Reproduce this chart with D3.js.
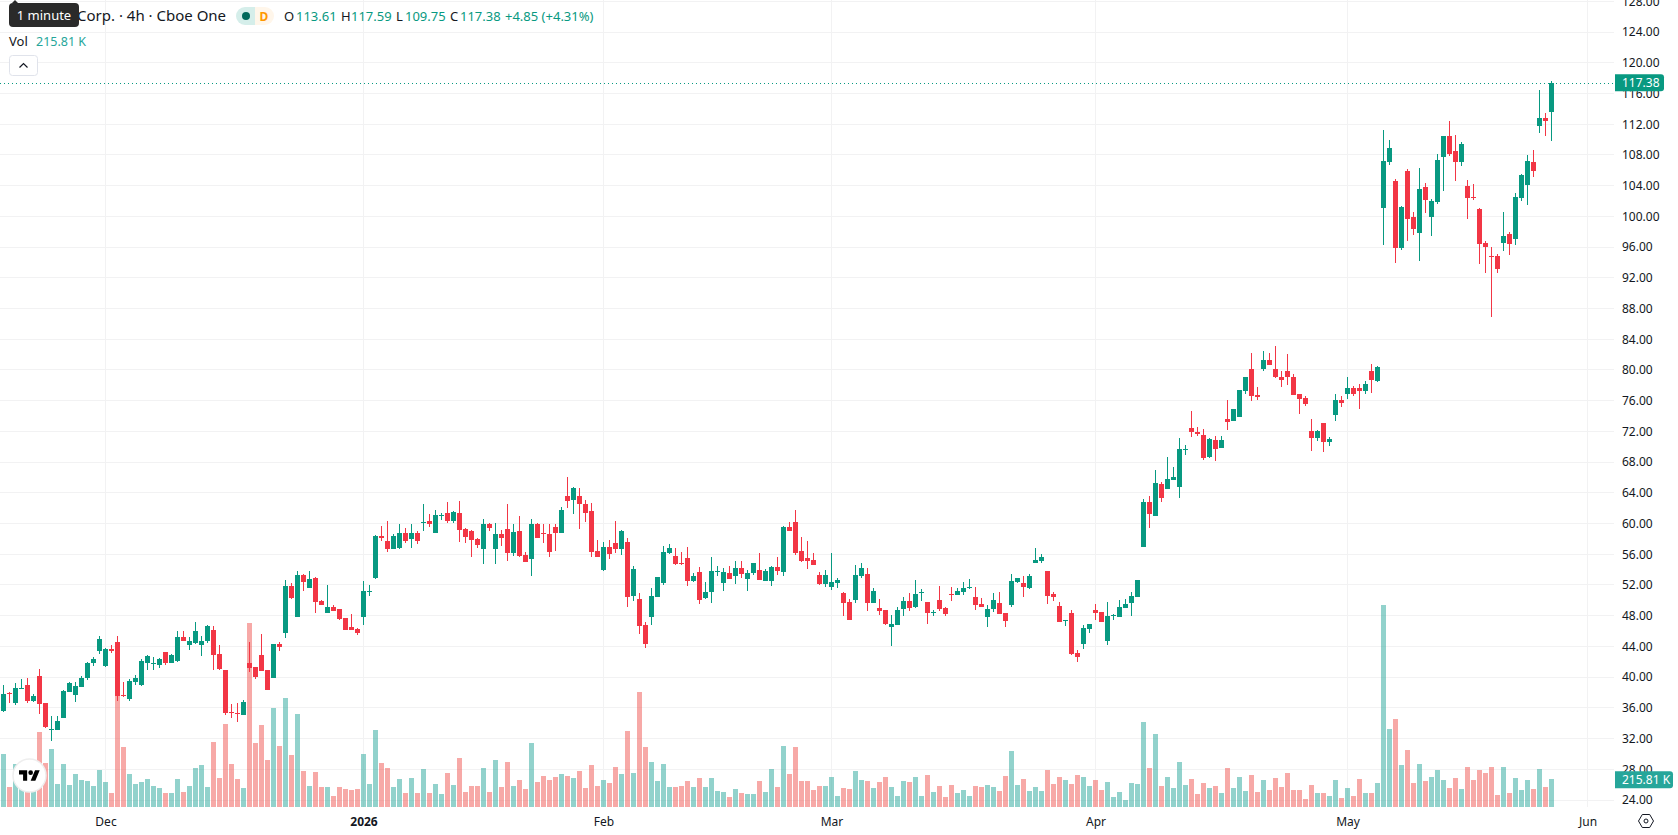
<!DOCTYPE html>
<html>
<head>
<meta charset="utf-8">
<title>Corp. 4h candlestick chart</title>
<style>
  html, body { margin: 0; padding: 0; background: #fff; }
  svg { display: block; }
  text { font-family: "Noto Sans", Roboto, sans-serif; }
</style>
<script src="https://cdn.jsdelivr.net/npm/d3@7"></script>
</head>
<body>
<svg id="chart" width="1678" height="835"></svg>
<script>
// 4-hour OHLC bars, oldest first.
const open = [
  35.59,37.89,36.63,38.45,38.97,36.89,40.15,36.63,33.12,33.12,
  34.68,38.06,37.67,38.71,39.89,41.84,43.40,41.45,43.66,44.57,
  37.67,37.15,39.37,38.97,41.84,41.71,41.58,43.27,41.84,42.10,
  45.22,44.18,44.44,44.18,44.70,46.14,43.01,40.93,35.46,35.33,
  35.07,41.84,41.32,42.88,40.93,39.89,44.31,45.75,51.86,47.83,
  53.30,51.60,52.91,49.91,48.35,49.13,48.87,47.70,46.53,46.27,
  47.83,51.08,52.95,58.38,57.73,56.69,56.82,58.77,57.99,58.77,
  60.07,60.33,58.77,60.98,61.37,60.33,61.37,59.29,59.03,57.98,
  56.68,59.94,56.68,58.64,59.29,56.16,59.03,55.90,55.38,59.94,
  58.77,58.64,59.55,58.77,63.59,63.06,63.59,62.54,61.63,56.42,
  53.95,56.94,57.46,56.68,57.59,50.56,50.17,46.79,47.83,50.43,
  52.25,56.16,55.77,54.86,55.51,52.52,53.69,50.30,51.09,53.69,
  52.25,53.56,53.17,54.21,52.78,53.56,53.95,52.52,52.52,54.34,
  53.69,59.55,60.20,56.42,55.51,55.25,53.30,52.13,51.74,52.25,
  50.95,49.78,50.04,53.17,53.43,49.65,49.00,48.74,46.53,46.79,
  48.87,49.91,49.13,50.95,49.78,48.35,50.04,49.00,50.82,50.69,
  51.09,51.61,50.43,49.52,47.83,48.87,49.65,48.35,49.39,52.39,
  52.25,51.61,54.86,55.12,53.82,50.82,49.26,47.31,48.35,43.14,
  44.31,46.27,48.74,48.48,44.71,47.96,47.83,49.00,49.65,50.43,
  56.94,62.80,60.98,65.15,64.50,65.67,64.76,69.58,72.44,71.92,
  71.53,68.66,70.88,69.84,73.61,73.35,73.87,77.26,80.12,76.74,
  80.12,81.29,80.12,79.08,79.86,79.08,76.87,76.35,72.05,71.14,
  73.09,70.62,74.13,76.09,76.87,77.65,77.65,77.26,79.86,78.56,
  101.08,107.07,104.60,95.87,105.90,99.91,97.83,103.81,99.91,101.86,
  107.72,110.45,108.50,107.07,103.94,102.51,100.95,96.52,94.83,94.83,
  96.52,97.70,97.04,102.38,104.08,107.07,111.76,112.80,113.61
];
const high = [
  38.97,38.11,39.24,39.76,39.89,37.80,41.06,36.63,34.94,34.94,
  38.32,39.37,39.37,40.15,41.97,42.62,45.35,43.79,44.18,45.35,
  39.37,39.76,40.28,42.36,42.88,42.62,42.49,43.27,43.01,46.01,
  46.01,45.22,47.18,45.35,46.79,46.66,44.18,40.93,36.50,36.63,
  37.02,44.57,41.32,45.62,40.93,44.31,44.57,52.65,52.26,53.82,
  53.43,53.82,53.04,50.04,51.99,49.39,48.87,47.70,48.22,46.40,
  52.52,51.99,58.51,59.68,60.33,58.64,59.94,59.42,59.94,59.03,
  62.54,61.24,61.76,61.37,62.80,61.63,62.93,59.42,59.16,58.11,
  60.59,60.07,60.07,59.16,62.54,59.94,60.98,56.29,60.59,60.07,
  59.94,59.94,59.94,62.15,66.06,64.76,64.63,63.06,62.67,57.85,
  57.59,57.85,60.33,59.16,58.11,54.47,50.95,47.18,51.60,53.04,
  57.07,57.33,56.81,56.29,56.94,53.56,54.34,52.39,55.64,54.47,
  54.21,54.47,55.12,55.12,53.95,54.86,56.16,54.08,54.47,55.64,
  59.68,60.20,61.76,58.25,57.72,56.16,53.69,53.95,56.16,52.91,
  51.09,50.17,54.60,54.86,54.21,51.60,50.17,48.74,48.09,49.13,
  50.43,50.95,52.65,51.48,49.78,48.74,51.87,49.13,51.74,51.61,
  52.39,52.78,51.74,50.30,49.39,50.95,51.09,48.35,53.43,52.91,
  53.17,53.43,56.81,56.03,53.82,51.09,49.78,47.44,48.74,43.53,
  46.79,46.92,49.52,48.48,49.78,48.22,50.04,50.17,51.09,52.65,
  63.19,63.59,66.97,65.41,68.66,67.36,71.14,70.23,74.65,72.57,
  72.31,71.14,71.40,71.40,76.09,74.91,77.39,79.08,82.21,77.78,
  82.47,82.21,83.12,79.86,82.08,79.47,76.87,76.61,73.61,72.18,
  73.09,71.27,76.87,76.61,79.08,77.91,78.17,78.56,80.77,80.51,
  111.24,109.93,104.86,101.34,106.16,100.56,106.29,104.34,102.25,108.11,
  110.45,112.41,110.58,109.67,104.73,104.21,101.08,96.78,96.00,95.09,
  100.56,97.96,103.03,105.51,107.98,108.63,116.44,113.45,117.59
];
const low = [
  35.46,36.67,36.37,38.45,36.63,36.76,35.20,33.38,31.68,33.12,
  34.68,38.06,36.76,38.71,39.63,41.45,43.01,41.32,43.14,36.89,
  37.41,36.89,38.97,38.84,40.93,40.93,41.19,41.58,41.84,41.97,
  44.70,43.53,44.31,42.75,44.44,40.93,40.93,35.07,34.68,34.16,
  35.07,40.67,39.76,40.80,38.32,39.89,43.40,45.09,50.17,47.83,
  51.21,51.60,48.35,49.39,48.35,48.61,47.44,46.14,46.14,45.48,
  46.79,50.56,52.78,57.77,56.30,56.69,56.69,57.47,56.82,57.34,
  59.03,59.55,58.77,60.46,60.07,60.07,57.59,57.46,55.64,56.81,
  54.73,59.03,54.73,57.07,55.12,55.77,55.64,54.99,53.17,58.11,
  57.46,55.64,56.42,58.77,62.02,61.24,59.29,60.20,55.64,55.64,
  53.82,55.38,56.16,55.90,49.13,49.91,45.62,43.79,46.79,50.43,
  52.00,56.03,54.60,54.60,51.87,52.39,49.52,50.17,49.65,53.17,
  51.22,52.78,52.13,52.91,51.22,53.30,52.65,52.52,51.87,53.30,
  53.17,59.03,55.90,54.99,54.08,54.60,52.00,51.74,51.34,51.61,
  47.96,47.44,49.65,52.91,48.61,49.65,48.09,46.79,44.05,46.79,
  47.96,48.61,49.00,49.91,46.92,47.96,48.61,47.96,49.91,50.69,
  50.69,51.48,48.74,49.13,46.53,48.48,48.22,46.53,49.13,52.25,
  50.43,51.48,54.86,54.86,49.52,49.91,47.18,46.66,42.88,41.97,
  43.66,45.75,47.44,47.18,44.18,47.44,47.83,49.00,47.96,50.43,
  56.94,59.42,60.98,62.80,64.50,65.67,63.33,68.93,71.27,71.40,
  68.27,68.53,68.14,69.84,72.18,73.35,73.87,76.87,75.96,76.09,
  79.86,80.64,78.95,77.78,78.04,76.74,74.26,75.30,69.45,70.75,
  69.32,70.10,73.35,75.17,76.22,76.61,74.91,76.87,77.00,78.43,
  96.26,106.68,93.92,95.61,96.78,97.57,94.18,100.43,97.43,101.60,
  103.29,107.85,104.60,106.55,99.65,102.12,93.79,92.62,86.89,92.62,
  95.48,94.96,96.26,101.99,101.47,105.12,110.85,110.45,109.75
];
const close = [
  37.80,37.76,38.58,38.58,36.89,37.54,36.50,33.51,33.25,34.29,
  38.19,39.24,38.84,39.89,41.84,42.36,44.96,43.66,43.40,37.54,
  37.54,39.50,39.89,42.10,42.75,41.84,42.36,41.84,42.88,45.22,
  44.70,44.70,46.01,44.70,46.66,42.88,41.06,35.33,35.33,35.24,
  36.76,41.19,40.02,40.80,38.32,44.31,43.92,51.86,50.30,53.30,
  52.39,52.78,49.78,49.39,49.13,48.61,47.57,46.14,46.14,45.75,
  51.21,51.21,58.38,58.12,56.69,58.38,58.77,57.73,58.77,57.73,
  60.20,59.94,61.11,61.11,60.33,61.50,59.16,58.25,57.85,57.20,
  59.94,59.42,58.64,58.11,56.16,58.90,55.77,54.99,59.94,58.11,
  58.64,56.29,58.77,61.76,62.93,64.63,62.54,61.37,56.29,55.64,
  56.94,56.03,56.68,59.03,50.43,54.08,46.66,44.31,50.56,53.04,
  56.29,56.81,54.73,54.73,52.52,53.17,50.04,51.09,53.82,53.82,
  53.69,52.78,54.21,53.43,53.56,54.86,52.65,53.82,54.34,53.82,
  59.55,59.03,56.16,55.12,55.12,54.60,52.13,53.30,52.39,52.65,
  49.65,47.44,53.30,54.21,49.65,51.22,48.61,46.92,46.92,48.74,
  49.91,49.00,50.82,51.09,48.35,48.48,48.87,48.22,50.69,51.22,
  51.61,51.74,49.39,49.13,48.87,50.04,48.22,47.31,52.52,52.91,
  51.74,53.17,55.25,55.64,50.56,50.43,47.18,47.44,43.01,42.62,
  46.40,46.92,48.35,47.18,47.96,48.09,49.13,49.52,50.56,52.65,
  62.80,61.24,65.28,63.32,65.80,66.06,69.71,69.71,71.92,71.66,
  68.53,71.01,69.71,70.88,73.22,74.91,77.39,79.08,76.61,76.48,
  81.29,80.64,79.08,78.69,79.08,76.74,76.22,75.57,71.14,72.05,
  70.62,71.01,76.09,75.70,77.65,76.87,77.26,78.17,78.69,80.38,
  107.20,108.89,95.87,101.21,99.65,98.35,103.55,102.12,101.99,107.33,
  110.45,108.11,107.07,109.41,102.38,102.38,96.39,96.00,94.70,93.14,
  97.43,96.39,102.51,105.38,107.20,105.90,112.80,112.41,117.38
];
// Traded volume per bar, in thousands of shares.
const volume = [
  411,153,333,260,208,208,582,341,450,177,
  333,169,255,208,200,161,286,192,107,871,
  465,255,177,192,216,161,146,107,107,216,
  114,161,302,325,153,504,224,645,333,216,
  146,1433,497,637,364,770,473,848,403,723,
  278,161,270,153,153,83,153,138,130,138,
  411,177,598,341,302,153,216,107,224,107,
  294,107,177,99,263,169,380,114,161,161,
  302,114,364,153,348,161,208,138,497,192,
  239,208,231,255,239,224,278,146,325,161,
  208,185,309,255,590,263,894,465,348,200,
  333,153,153,161,200,153,224,153,224,122,
  114,75,138,107,99,99,200,114,294,153,
  473,255,465,200,200,130,161,161,231,83,
  146,138,278,208,200,146,192,231,153,83,
  200,192,231,83,247,114,161,75,169,107,
  130,83,161,153,169,153,122,239,434,169,
  216,122,153,122,286,177,231,208,177,247,
  231,161,208,130,192,75,114,52,185,177,
  660,302,567,161,231,146,348,169,216,99,
  185,146,161,107,302,146,231,122,247,114,
  208,130,224,153,263,130,130,60,169,107,
  107,83,208,68,146,83,216,107,107,185,
  1573,606,684,325,442,185,333,200,231,286,
  208,146,224,138,309,208,286,263,309,91,
  309,107,224,130,208,138,294,153,215.81
];

const priceTicks = d3.range(24, 129, 4);
const monthLabels = ["Dec", "2026", "Feb", "Mar", "Apr", "May", "Jun"];
const monthBarIndex = [17, 60, 100, 138, 182, 224, 264];
const sessionChange = "+4.85 (+4.31%)";

const bars = open.map((o, i) => ({
  i, o, h: high[i], l: low[i], c: close[i], v: volume[i], up: close[i] >= o
}));

const UP = "#089981", DOWN = "#f23645";
const VOL_UP = "rgba(38,166,154,0.5)", VOL_DOWN = "rgba(239,83,80,0.5)";
const GRID = "#f2f2f3", INK = "#131722";
const paneRight = 1614, paneBottom = 806.7;

const x = d3.scaleLinear().domain([0, 258]).range([3.5, 1551.5]);
const y = d3.scaleLinear().domain([24, 128]).range([800, 1.3]);
const yVol = d3.scaleLinear().domain([0, 1573]).range([paneBottom, 605]);

const svg = d3.select("#chart");
const last = bars[bars.length - 1];

// Background grid
svg.append("g").selectAll("line").data(priceTicks).join("line")
  .attr("x1", 0).attr("x2", paneRight)
  .attr("y1", d => y(d)).attr("y2", d => y(d))
  .attr("stroke", GRID).attr("shape-rendering", "crispEdges");
svg.append("g").selectAll("line").data(monthBarIndex).join("line")
  .attr("x1", d => x(d)).attr("x2", d => x(d))
  .attr("y1", 0).attr("y2", paneBottom)
  .attr("stroke", GRID).attr("shape-rendering", "crispEdges");

// Volume histogram sits behind the candles
svg.append("g").attr("shape-rendering", "crispEdges")
  .selectAll("rect").data(bars).join("rect")
  .attr("x", d => x(d.i) - 2.5).attr("width", 5)
  .attr("y", d => yVol(d.v)).attr("height", d => paneBottom - yVol(d.v))
  .attr("fill", d => d.up ? VOL_UP : VOL_DOWN);

// Last-price line
svg.append("line")
  .attr("x1", 0).attr("x2", paneRight + 1)
  .attr("y1", Math.round(y(last.c)) + 0.5).attr("y2", Math.round(y(last.c)) + 0.5)
  .attr("stroke", UP).attr("stroke-dasharray", "1 3");

// Candles: wick then body
const candles = svg.append("g").attr("shape-rendering", "crispEdges");
candles.selectAll("rect.wick").data(bars).join("rect")
  .attr("class", "wick")
  .attr("x", d => x(d.i) - 0.5).attr("width", 1)
  .attr("y", d => y(d.h)).attr("height", d => y(d.l) - y(d.h))
  .attr("fill", d => d.up ? UP : DOWN);
candles.selectAll("rect.body").data(bars).join("rect")
  .attr("class", "body")
  .attr("x", d => x(d.i) - 2.5).attr("width", 5)
  .attr("y", d => y(Math.max(d.o, d.c)))
  .attr("height", d => Math.max(1, Math.abs(y(d.o) - y(d.c))))
  .attr("fill", d => d.up ? UP : DOWN);

// Price axis on the right
const yAxis = d3.axisRight(y).tickValues(priceTicks)
  .tickFormat(d3.format(".2f")).tickSize(0).tickPadding(8);
const yG = svg.append("g").attr("transform", `translate(${paneRight},0)`).call(yAxis);
yG.select(".domain").remove();
yG.selectAll("text").attr("font-size", 12).attr("fill", INK)
  .style("font-family", '"Noto Sans", sans-serif');

// Time axis along the bottom
const xAxis = d3.axisBottom(x).tickValues(monthBarIndex)
  .tickFormat((d, i) => monthLabels[i]).tickSize(0).tickPadding(0);
const xG = svg.append("g").attr("transform", `translate(0,${paneBottom + 10.5})`).call(xAxis);
xG.select(".domain").remove();
xG.selectAll("text").attr("font-size", 12).attr("fill", INK)
  .style("font-family", '"Noto Sans", sans-serif')
  .attr("font-weight", d => d === 60 ? 700 : 400);

// Price scale value tags
function tag(value, text, fill, boxW, boxH) {
  const g = svg.append("g");
  g.append("path")
    .attr("d", `M${paneRight + 1} ${value - boxH / 2}h${boxW - 3}q3 0 3 3v${boxH - 6}q0 3 -3 3h${-(boxW - 3)}z`)
    .attr("fill", fill);
  g.append("text").attr("x", paneRight + 8).attr("y", value + 4.3)
    .attr("font-size", 12).attr("fill", "#fff").text(text);
}
tag(y(last.c), d3.format(".2f")(last.c), UP, 49, 17);
tag(yVol(last.v) + 0.8, `${d3.format(".2f")(last.v)} K`, "#26a69a", 58, 17);

// Settings glyph in the corner of the scales
const gear = svg.append("g").attr("transform", "translate(1646,821)")
  .attr("fill", "none").attr("stroke", INK);
gear.append("path").attr("d", "M-7.5 0L-3.7 -6.5H3.7L7.5 0L3.7 6.5H-3.7Z");
gear.append("circle").attr("r", 2);

// Legend rows
function legend(px, py, str, fill, size = 13, weight = 400) {
  return svg.append("text").attr("x", px).attr("y", py)
    .attr("font-size", size).attr("font-weight", weight).attr("fill", fill).text(str);
}
legend(77, 21, "Corp. · 4h · Cboe One", INK, 15);

svg.append("path").attr("d", "M245 7h10v18h-10a9 9 0 0 1 0 -18z").attr("fill", "#d5eeea");
svg.append("path").attr("d", "M255 7h10a9 9 0 0 1 0 18h-10z").attr("fill", "#fff6ea");
svg.append("circle").attr("cx", 246).attr("cy", 16).attr("r", 4).attr("fill", "#00695c");
legend(259.5, 20.5, "D", "#ff9800", 12, 700);

const fmt = d3.format(".2f");
legend(284, 21, "O", INK);
legend(296, 21, fmt(last.o), UP);
legend(341, 21, "H", INK);
legend(351, 21, fmt(last.h), UP);
legend(396, 21, "L", INK);
legend(405, 21, fmt(last.l), UP);
legend(450, 21, "C", INK);
legend(460, 21, fmt(last.c), UP);
legend(505, 21, sessionChange, UP);
legend(9, 45.5, "Vol", INK);
legend(36, 45.5, `${fmt(last.v)} K`, "#26a69a", 12.5);

// Collapse button under the legend
svg.append("rect").attr("x", 9.5).attr("y", 55.5).attr("width", 28).attr("height", 20).attr("rx", 3)
  .attr("fill", "#fff").attr("stroke", "#e0e3eb");
svg.append("path").attr("d", "M19.5 67.5L23.5 63.5L27.5 67.5")
  .attr("fill", "none").attr("stroke", INK).attr("stroke-width", 1.2);

// Hover tooltip over the start of the title
svg.append("path").attr("d", "M12 3l3 -3l3 3z").attr("fill", "#2a2a2a");
svg.append("rect").attr("x", 9).attr("y", 3).attr("width", 70).attr("height", 24).attr("rx", 4)
  .attr("fill", "#2a2a2a");
legend(44, 20, "1 minute", "#fff", 13).attr("text-anchor", "middle");

// Brand badge
const badge = svg.append("g").attr("transform", "translate(29.5,775.5)");
badge.append("circle").attr("r", 16.5).attr("fill", "#fff")
  .attr("stroke", "#eeeeee").attr("stroke-width", 1.5);
const mark = badge.append("g").attr("transform", "translate(-10.5,-7.5) scale(0.583)").attr("fill", "#000");
mark.append("path").attr("d", "M14 22H7V11H0V4h14v18zM28 22h-8l7.5-18h8L28 22z");
mark.append("circle").attr("cx", 20).attr("cy", 8).attr("r", 4);
</script>
</body>
</html>
